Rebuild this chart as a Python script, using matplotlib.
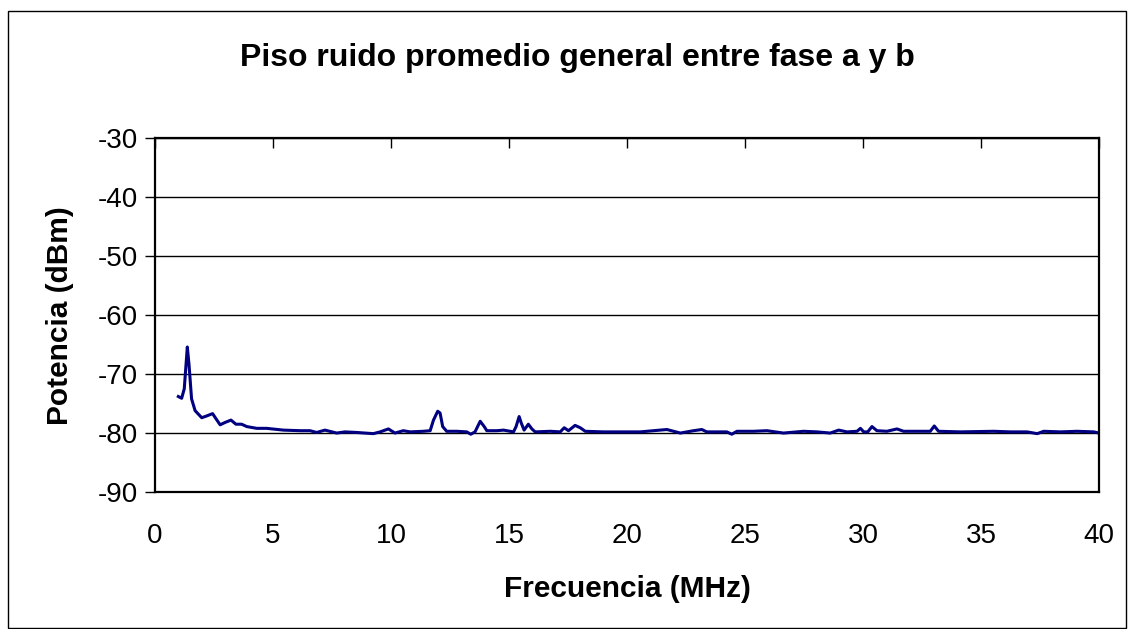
import matplotlib
matplotlib.use('Agg')
import matplotlib.pyplot as plt
from matplotlib.patches import Rectangle

plt.rcParams['font.family'] = ['Liberation Sans', 'DejaVu Sans']
plt.rcParams['axes.unicode_minus'] = False

# average noise floor between phase a and b
freq = [0.99, 1.13, 1.24, 1.37, 1.44, 1.55, 1.70, 1.98, 2.19, 2.44, 2.59, 2.76,
        2.97, 3.22, 3.43, 3.67, 3.89, 4.31, 4.73, 5.44, 6.15, 6.57, 6.85, 7.20,
        7.70, 8.05, 8.55, 9.25, 9.54, 9.89, 10.17, 10.52, 10.81, 11.37, 11.66,
        11.80, 11.98, 12.08, 12.19, 12.36, 12.79, 13.21, 13.38, 13.56, 13.78,
        13.95, 14.06, 14.49, 14.77, 15.19, 15.30, 15.43, 15.52, 15.64, 15.82,
        15.97, 16.11, 16.75, 17.17, 17.34, 17.52, 17.80, 18.02, 18.23, 19.00,
        19.85, 20.56, 20.84, 21.69, 22.26, 22.82, 23.17, 23.38, 24.23, 24.44,
        24.66, 25.36, 25.93, 26.63, 27.48, 28.05, 28.61, 28.97, 29.32, 29.75,
        29.89, 30.03, 30.20, 30.38, 30.59, 31.01, 31.44, 31.72, 32.43, 32.85,
        33.02, 33.20, 34.13, 35.54, 36.24, 36.95, 37.38, 37.66, 38.37, 39.07,
        39.78, 40.0]
power = [-73.8, -74.1, -72.5, -65.4, -68.3, -74.2, -76.2, -77.4, -77.1, -76.7,
         -77.6, -78.6, -78.2, -77.8, -78.5, -78.5, -78.9, -79.2, -79.2, -79.5,
         -79.6, -79.6, -79.9, -79.5, -80.0, -79.8, -79.9, -80.1, -79.8, -79.3,
         -80.0, -79.6, -79.8, -79.7, -79.6, -77.8, -76.3, -76.6, -78.9, -79.7,
         -79.7, -79.8, -80.2, -79.8, -78.0, -78.9, -79.6, -79.6, -79.5, -79.8,
         -78.9, -77.2, -78.3, -79.5, -78.5, -79.3, -79.8, -79.7, -79.8, -79.1,
         -79.6, -78.7, -79.1, -79.7, -79.8, -79.8, -79.8, -79.7, -79.4, -80.0,
         -79.6, -79.4, -79.8, -79.8, -80.2, -79.7, -79.7, -79.6, -80.0, -79.7,
         -79.8, -80.0, -79.5, -79.8, -79.7, -79.2, -79.8, -79.8, -78.9, -79.6,
         -79.7, -79.3, -79.7, -79.7, -79.7, -78.8, -79.7, -79.8, -79.7, -79.8,
         -79.8, -80.1, -79.7, -79.8, -79.7, -79.8, -80.0]

fig = plt.figure(figsize=(11.28, 6.29), dpi=100)
fig.patches.append(Rectangle((8 / 1128, 1.5 / 629), 1118 / 1128, 617 / 629,
                             transform=fig.transFigure, fill=False,
                             edgecolor='black', linewidth=1))

ax = fig.add_axes([0.1374, 0.2178, 0.8369, 0.5623])
ax.plot(freq, power, color='#000080', linewidth=2.2, solid_joinstyle='round')

ax.set_xlim(0, 40)
ax.set_ylim(-90, -30)
ax.set_xticks(range(0, 41, 5))
ax.set_yticks(range(-90, -29, 10))
ax.grid(axis='y', color='black', linewidth=1)
ax.set_axisbelow(True)

for side in ['left', 'right', 'top', 'bottom']:
    ax.spines[side].set_linewidth(1.6)

ax.tick_params(axis='x', bottom=False, top=True, direction='in', length=7,
               width=1, labelsize=20, pad=22)
ax.tick_params(axis='y', direction='out', length=7, width=1, labelsize=20, pad=5)

ax.set_xlabel('Frecuencia (MHz)', fontsize=21.5, fontweight='bold', labelpad=19)
ax.set_ylabel('Potencia (dBm)', fontsize=21.5, fontweight='bold', labelpad=17)
fig.text(0.512, 0.907, 'Piso ruido promedio general entre fase a y b',
         ha='center', va='center', fontsize=23, fontweight='bold')

plt.savefig('out.png', dpi=100)
